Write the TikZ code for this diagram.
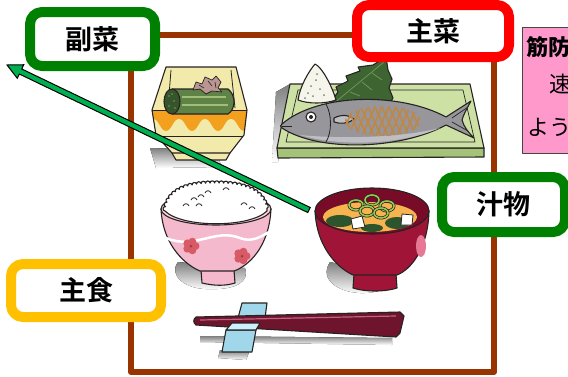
\documentclass[tikz,border=0pt]{standalone}
\usepackage{fontspec}
\newfontfamily\jp{Noto Sans CJK JP}
\IfFontExistsTF{Noto Sans CJK JP Black}
  {\newfontfamily\jptag{Noto Sans CJK JP Black}}
  {\newfontfamily\jptag{Noto Sans CJK JP}[UprightFont=*,BoldFont=*,BoldFeatures={FakeBold=2.5}]}
\usetikzlibrary{calc,decorations.pathmorphing}
\definecolor{frameBrown}{RGB}{153,51,0}
\definecolor{tagGreen}{RGB}{0,128,0}
\definecolor{tagRed}{RGB}{255,0,0}
\definecolor{tagGold}{RGB}{255,192,0}
\definecolor{arrowGreen}{RGB}{0,176,80}
\definecolor{notePink}{RGB}{255,153,204}
\definecolor{noteEdge}{RGB}{70,70,70}
\definecolor{inkDark}{RGB}{40,35,35}
\definecolor{shade}{RGB}{215,215,215}
\definecolor{sdPale}{RGB}{242,234,170}
\definecolor{sdOrange}{RGB}{243,160,30}
\definecolor{cukeGreen}{RGB}{95,130,70}
\definecolor{cukeDark}{RGB}{55,85,45}
\definecolor{cukeLight}{RGB}{160,190,120}
\definecolor{bonito}{RGB}{185,150,145}
\definecolor{plateTop}{RGB}{205,225,165}
\definecolor{plateSide}{RGB}{165,195,120}
\definecolor{fishGrey}{RGB}{150,150,155}
\definecolor{fishBelly}{RGB}{190,190,195}
\definecolor{scoreBrown}{RGB}{190,135,70}
\definecolor{shiso}{RGB}{62,100,50}
\definecolor{shisoVein}{RGB}{110,150,90}
\definecolor{daikon}{RGB}{245,245,235}
\definecolor{ricePink}{RGB}{245,185,205}
\definecolor{riceRim}{RGB}{250,215,225}
\definecolor{plum}{RGB}{215,90,100}
\definecolor{misoRed}{RGB}{160,20,55}
\definecolor{misoDeep}{RGB}{120,12,40}
\definecolor{misoHigh}{RGB}{230,120,150}
\definecolor{soupOrange}{RGB}{245,180,80}
\definecolor{seaweed}{RGB}{45,85,45}
\definecolor{onion}{RGB}{150,200,80}
\definecolor{stickRed}{RGB}{110,20,45}
\definecolor{stickHigh}{RGB}{190,100,130}
\definecolor{restBlue}{RGB}{160,215,235}
\definecolor{restTop}{RGB}{205,240,250}
\begin{document}
\begin{tikzpicture}[x=1pt,y=-1pt,line join=round,
  outline/.style={draw=inkDark,line width=1.1pt},
  tagbox/.style={draw,fill=white,line width=10pt,rounded corners=12pt,inner sep=0pt,
    font=\jptag\bfseries\fontsize{27}{27}\selectfont},
  notetext/.style={anchor=west,inner sep=0pt,font=\jp\fontsize{22}{22}\selectfont}]
\useasboundingbox (0,0) rectangle (568,376);
\clip (0,0) rectangle (568,376);
\fill[white] (0,0) rectangle (568,376);

% tray frame
\draw[frameBrown,line width=6pt] (131,35) rectangle (494,372);

% ---------- side dish: square bowl with cucumber roll ----------
\fill[shade] (150,148) -- (215,150) -- (222,167) -- (156,168) -- cycle;
\begin{scope}
  \clip (166,67) -- (236,67) -- (247,110) -- (244,135) -- (230,153) -- (172,153) -- (156,135) -- (152,110) -- cycle;
  \fill[sdPale] (140,60) rectangle (260,170);
  \fill[sdOrange] (140,110) rectangle (260,136);
  % pale scallops rising into the orange band
  \fill[sdPale] (140,140) -- (140,131)
    \foreach \k in {0,...,4} { .. controls ({140+26*\k+6},131) and ({140+26*\k+7},119) .. ({140+26*\k+13},119)
                               .. controls ({140+26*\k+19},119) and ({140+26*\k+20},131) .. ({140+26*\k+26},131) }
    -- (270,140) -- cycle;
  \draw[inkDark,line width=1pt] (140,110) -- (260,110);
  \draw[inkDark,line width=1pt] (140,136) -- (260,136);
\end{scope}
\draw[inkDark,line width=0.8pt] (171,70) -- (168,108) (231,70) -- (235,108);
\draw[outline,fill=sdPale] (172,153) -- (176,160) -- (226,160) -- (230,153);
\draw[outline] (166,67) -- (236,67) -- (247,110) -- (244,135) -- (230,153) -- (172,153) -- (156,135) -- (152,110) -- cycle;
% cucumber roll
\draw[outline,fill=cukeGreen] (172,89) -- (228,89) .. controls (236,95) and (236,109) .. (228,114) -- (172,114);
\draw[cukeLight,line width=1.5pt] (182,97) -- (226,97) (182,105) -- (228,105);
\draw[outline,fill=cukeDark] (172,101.5) ellipse [x radius=8, y radius=12.5];
\foreach \px/\py in {169/96,174/101,169/106,175/108,172/94}
  \fill[cukeGreen] (\px,\py) circle (1.2);
% bonito flakes
\draw[inkDark,line width=0.7pt,fill=bonito] (193,90) -- (196,82) -- (202,84) -- (205,77) -- (212,80) -- (216,76) -- (221,82) -- (218,88) -- (222,92) -- (212,91) -- (206,94) -- (200,89) -- cycle;
\draw[inkDark,line width=0.6pt] (199,85) -- (204,88) (208,81) -- (212,86) (215,82) -- (216,88);

% ---------- main dish: grilled fish on a plate ----------
\fill[shade] (276,92) -- (290,84) -- (278,162) -- (272,162) -- cycle;
\draw[outline,fill=plateSide] (277,148) -- (484,148) -- (484,157) -- (278,158) -- cycle;
\draw[outline,fill=plateTop] (290,84) -- (470,84) -- (484,148) -- (277,148) -- cycle;
\draw[inkDark,line width=0.7pt] (298,90) -- (463,90) -- (475,142) -- (286,142) -- cycle;
% shiso leaf
\draw[outline,fill=shiso] (328,106) -- (338,92) -- (336,87) -- (348,81) -- (346,76) -- (360,71) -- (358,67) -- (373,65) -- (386,57) -- (388,70) -- (392,79) -- (389,88) -- (393,98) -- (388,106) -- cycle;
\draw[shisoVein,line width=0.8pt] (333,104) -- (384,62) (350,92) -- (360,96) (362,82) -- (372,90) (372,73) -- (382,80);
% grated daikon
\draw[outline,fill=daikon] (298,100) .. controls (300,86) and (309,71) .. (315,64) .. controls (322,67) and (332,86) .. (336,100) .. controls (325,104) and (308,104) .. cycle;
\foreach \px/\py in {308/93,311/86,316/80,320/89,313/96,324/95,317/74,305/98}
  \fill[gray] (\px,\py) circle (1);
% fish body and tail
\draw[outline,fill=fishGrey] (282,124) .. controls (318,93) and (400,92) .. (446,117) -- (471,101) .. controls (466,110) and (463,116) .. (462,120) .. controls (464,127) and (468,132) .. (474,138) -- (446,125) .. controls (400,150) and (318,152) .. (282,128) .. controls (280,127) and (280,125) .. cycle;
\fill[fishBelly] (300,135) .. controls (340,147) and (400,145) .. (440,128) .. controls (400,138) and (340,139) .. cycle;
\draw[inkDark,line width=0.8pt] (282,126) -- (292,126);
\draw[inkDark,line width=0.8pt] (326,104) .. controls (332,115) and (332,132) .. (326,142);
\draw[outline,fill=fishBelly] (334,118) .. controls (342,114) and (350,115) .. (354,119) .. controls (348,124) and (340,124) .. (334,122) -- cycle;
\draw[outline,fill=white] (311,117) circle (5);
\fill[inkDark] (311,117) circle (2);
\draw[inkDark,line width=0.7pt] (452,118) -- (468,107) (452,122) -- (468,131);
\begin{scope}
  \clip (383,121) ellipse [x radius=38, y radius=15];
  \foreach \i in {0,...,14}
    \draw[scoreBrown,line width=1.6pt] ({330+\i*7},100) -- ({350+\i*7},145) ({350+\i*7},100) -- ({330+\i*7},145);
\end{scope}

% ---------- staple: rice bowl ----------
\fill[shade] (178,262) .. controls (168,275) and (185,290) .. (210,289) .. controls (235,290) and (250,282) .. (245,268) -- cycle;
\draw[outline,fill=ricePink] (201,270) -- (202,283) .. controls (215,286) and (225,286) .. (235,283) -- (234,270);
\draw[outline,fill=ricePink] (161,209) .. controls (163,248) and (188,266) .. (200,271) -- (234,271) .. controls (248,266) and (269,248) .. (271,209) -- cycle;
\draw[white,line width=2.5pt] (166,238) .. controls (195,250) and (215,228) .. (240,238) .. controls (252,243) and (262,236) .. (269,232);
\foreach \cx/\cy in {191/246,242/256}{
  \foreach \a in {0,72,...,288}
    \fill[plum] ($(\cx,\cy)+(\a:4.5)$) circle (4);
  \fill[plum!70!black] (\cx,\cy) circle (1.5);
}
\draw[outline,fill=riceRim] (216,209) ellipse [x radius=55, y radius=16];
% heaped rice with a bumpy top
\draw[outline,fill=white] decorate[decoration={bumps,segment length=9pt,amplitude=2.2pt}]
  {(165,211) .. controls (168,186) and (195,183) .. (216,183) .. controls (240,183) and (264,188) .. (267,211)}
  .. controls (250,228) and (182,228) .. (165,211) -- cycle;
\foreach \px/\py in {186/205,194/199,201/196,208/192,226/189,244/204,252/208,199/205}
  \draw[inkDark,line width=0.8pt] ({\px-3},{\py+1}) .. controls ({\px-2},{\py-2}) and ({\px+2},{\py-2}) .. ({\px+3},{\py+1});

% ---------- soup: miso bowl ----------
\fill[shade] (330,262) .. controls (318,280) and (340,294) .. (365,293) .. controls (385,292) and (395,285) .. (390,275) -- cycle;
\draw[outline,fill=misoRed] (354,274) -- (353,288) .. controls (365,292) and (385,292) .. (397,288) -- (396,274);
\draw[outline,fill=misoRed] (315,211) .. controls (317,252) and (342,270) .. (353,275) -- (397,275) .. controls (410,270) and (428,250) .. (429,211) -- cycle;
\draw[outline,fill=misoDeep] (372,211) ellipse [x radius=57, y radius=23];
\fill[soupOrange] (370,217) ellipse [x radius=47, y radius=15];
\fill[seaweed] (340,221) ellipse [x radius=14, y radius=6] (397,223) ellipse [x radius=12, y radius=6] (372,228) ellipse [x radius=11, y radius=4];
\draw[outline,fill=white,line width=0.8pt] (351,219) -- (362,216) -- (365,227) -- (353,229) -- cycle;
\draw[outline,fill=white,line width=0.8pt] (402,214) -- (413,215) -- (412,225) -- (401,225) -- cycle;
\foreach \px/\py in {356/205,372/200,387/206,367/211,381/213}{
  \draw[inkDark,line width=3pt] (\px,\py) ellipse [x radius=7, y radius=5];
  \draw[onion,line width=1.6pt] (\px,\py) ellipse [x radius=7, y radius=5];
}
\fill[misoHigh] (421,246) ellipse [x radius=5, y radius=11];

% ---------- chopsticks on a rest ----------
\fill[shade] (200,336) -- (392,338) -- (392,345) -- (200,342) -- cycle;
\fill[shade] (220,350) -- (250,350) -- (246,360) -- (218,358) -- cycle;
\draw[outline,fill=restBlue] (242,303) -- (267,303) -- (265,318) -- (238,318) -- cycle;
\draw[outline,fill=stickRed] (196,317) -- (400,312) -- (404,316) -- (400,333) -- (396,337) -- (196,325) .. controls (193,323) and (193,319) .. cycle;
\draw[stickHigh,line width=1.2pt] (200,320) -- (396,316);
\draw[outline,fill=restBlue] (226,330) -- (256,330) -- (252,352) -- (222,352) -- cycle;
\draw[outline,fill=restTop] (232,323) -- (260,323) -- (256,330) -- (226,330) -- cycle;

% ---------- arrow ----------
\coordinate (tip) at (7,65);
\coordinate (tail) at (309,210);
\coordinate (hb) at ($(tip)!15pt!(tail)$);
\filldraw[fill=arrowGreen,draw=black,line width=1pt,line join=miter]
  (tip) -- ($(hb)!7.5pt!90:(tip)$) -- ($(hb)!2.8pt!90:(tip)$) -- ($(tail)!2.8pt!90:(hb)$)
  -- ($(tail)!2.8pt!-90:(hb)$) -- ($(hb)!2.8pt!-90:(tip)$) -- ($(hb)!7.5pt!-90:(tip)$) -- cycle;

% ---------- labels ----------
\node[tagbox,draw=tagGreen,minimum width=125pt,minimum height=54pt] (fukusai) at (92.5,39) {副菜};
\node[tagbox,draw=tagRed,minimum width=152pt,minimum height=52pt] (shusai) at (433,31) {主菜};
\node[tagbox,draw=tagGreen,minimum width=123pt,minimum height=55pt] (shiru) at (503.5,204.5) {汁物};
\node[tagbox,draw=tagGold,minimum width=150pt,minimum height=53pt] (shushoku) at (86,290.5) {主食};

% ---------- note box ----------
\node[draw=noteEdge,fill=notePink,line width=1pt,anchor=north west,minimum width=80pt,minimum height=126pt,inner sep=0pt] (note) at (522,27) {};
\node[notetext,font=\jp\bfseries\fontsize{22}{22}\selectfont] (noteA) at (526,47) {筋防};
\node[notetext] (noteB) at (527,84) {　速};
\node[notetext] (noteC) at (527,127) {よう};
\end{tikzpicture}
\end{document}
